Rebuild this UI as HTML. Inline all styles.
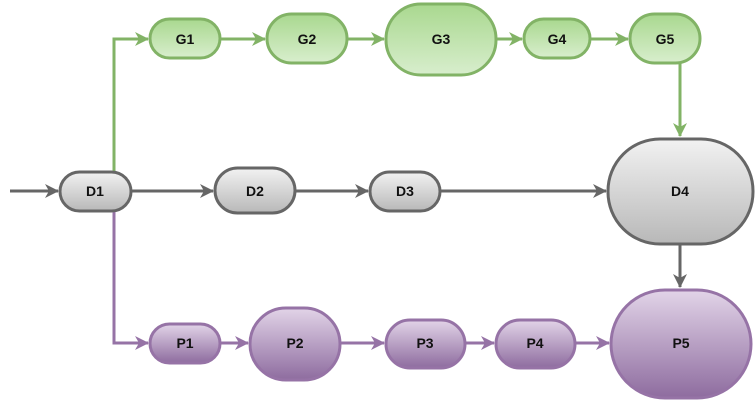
<!DOCTYPE html>
<html><head><style>body{margin:0;background:#fff}svg{display:block}</style></head><body>
<svg width="756" height="401" xmlns="http://www.w3.org/2000/svg" font-family="Liberation Sans, sans-serif" font-weight="bold" font-size="14">
<defs>
<linearGradient id="g" x1="0" y1="0" x2="0" y2="1"><stop offset="0" stop-color="#a9d88f"/><stop offset="1" stop-color="#d8eecd"/></linearGradient>
<linearGradient id="d" x1="0" y1="0" x2="0" y2="1"><stop offset="0" stop-color="#f2f2f2"/><stop offset="1" stop-color="#b8b8b8"/></linearGradient>
<linearGradient id="p" x1="0" y1="0" x2="0" y2="1"><stop offset="0" stop-color="#e2d4e8"/><stop offset="1" stop-color="#8e6c9f"/></linearGradient>
<marker id="ag" markerWidth="14" markerHeight="14" refX="13" refY="7" orient="auto" markerUnits="userSpaceOnUse"><path d="M0,0L14,7L0,14L4,7z" fill="#82b366"/></marker>
<marker id="ad" markerWidth="14" markerHeight="14" refX="13" refY="7" orient="auto" markerUnits="userSpaceOnUse"><path d="M0,0L14,7L0,14L4,7z" fill="#666"/></marker>
<marker id="ap" markerWidth="14" markerHeight="14" refX="13" refY="7" orient="auto" markerUnits="userSpaceOnUse"><path d="M0,0L14,7L0,14L4,7z" fill="#9673a6"/></marker>
</defs>
<g fill="none" stroke-width="3">
<g stroke="#82b366" marker-end="url(#ag)">
<path d="M114,171V39H148"/><path d="M220,39H265"/><path d="M347,39H384"/><path d="M496,39H522"/><path d="M590,39H628"/><path d="M680,63V136"/>
</g>
<g stroke="#666" marker-end="url(#ad)">
<path d="M10,191H58"/><path d="M131,191H213"/><path d="M295,191H368"/><path d="M440,191H606"/><path d="M680,244V287"/>
</g>
<g stroke="#9673a6" marker-end="url(#ap)">
<path d="M114,211V343H148"/><path d="M220,343H248"/><path d="M340,343H384"/><path d="M465,343H494"/><path d="M575,343H609"/>
</g>
</g>
<g stroke-width="3">
<g stroke="#82b366" fill="url(#g)">
<rect x="150" y="19" width="70" height="39" rx="19.5"/>
<rect x="267" y="14" width="80" height="49" rx="24.5"/>
<rect x="386" y="4" width="110" height="71" rx="35"/>
<rect x="524" y="19" width="66" height="39" rx="19.5"/>
<rect x="630" y="14" width="70" height="49" rx="24.5"/>
</g>
<g stroke="#666" fill="url(#d)">
<rect x="60" y="172" width="71" height="39" rx="19.5"/>
<rect x="215" y="168" width="80" height="45" rx="22.5"/>
<rect x="370" y="172" width="70" height="39" rx="19.5"/>
<rect x="608" y="139" width="145" height="105" rx="52"/>
</g>
<g stroke="#9673a6" fill="url(#p)">
<rect x="150" y="324" width="70" height="39" rx="19.5"/>
<rect x="250" y="308" width="90" height="72" rx="36"/>
<rect x="386" y="320" width="79" height="48" rx="24"/>
<rect x="496" y="320" width="79" height="48" rx="24"/>
<rect x="611" y="290" width="140" height="108" rx="54"/>
</g>
</g>
<g fill="#111" text-anchor="middle">
<text x="185" y="44">G1</text><text x="307" y="44">G2</text><text x="441" y="44">G3</text><text x="557" y="44">G4</text><text x="665" y="44">G5</text>
<text x="95" y="196">D1</text><text x="255" y="196">D2</text><text x="405" y="196">D3</text><text x="680" y="196">D4</text>
<text x="185" y="348">P1</text><text x="295" y="348">P2</text><text x="425" y="348">P3</text><text x="535" y="348">P4</text><text x="681" y="348">P5</text>
</g>
</svg>
</body></html>
